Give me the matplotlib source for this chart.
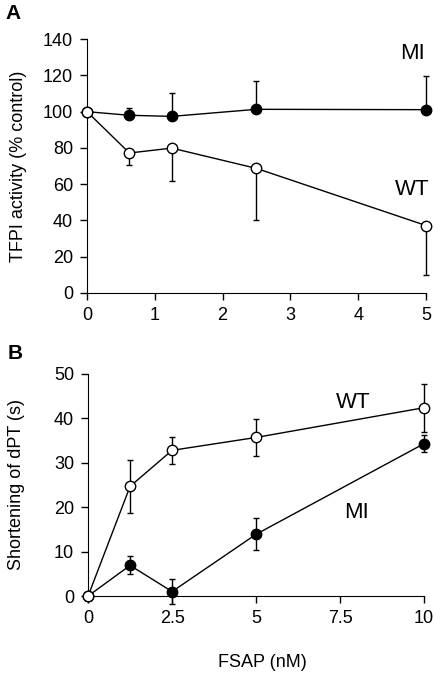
import matplotlib
matplotlib.use('Agg')
import matplotlib.pyplot as plt

plt.rcParams['font.family'] = ['Liberation Sans', 'DejaVu Sans']

# panel A: TFPI activity
xA = [0, 0.625, 1.25, 2.5, 5]
miA = [100, 98.0, 97.4, 101.3, 101.1]
miA_up = [0, 3.8, 12.7, 15.5, 18.4]
wtA = [100, 77.2, 79.9, 68.7, 37.2]
wtA_lo = [0, 6.7, 18.2, 28.2, 27.1]

# panel B: shortening of dPT
xB = [0, 1.25, 2.5, 5, 10]
wtB = [0, 24.7, 32.8, 35.7, 42.4]
wtB_err = [0, 6.0, 3.0, 4.2, 5.4]
miB = [0, 6.9, 1.0, 13.9, 34.3]
miB_err = [0, 2.0, 2.8, 3.6, 1.9]

fig = plt.figure(figsize=(4.34, 6.75), dpi=100)
axA = fig.add_axes([0.2005, 0.566, 0.781, 0.376])
axB = fig.add_axes([0.203, 0.117, 0.774, 0.329])

mk = dict(color='black', lw=1, ms=7.5, clip_on=False, zorder=3,
          markeredgecolor='black', markeredgewidth=1)
eb = dict(fmt='none', ecolor='black', elinewidth=1, capsize=2.5, capthick=1,
          clip_on=False, zorder=2)

axA.errorbar(xA, miA, yerr=[[0]*5, miA_up], **eb)
axA.errorbar(xA, wtA, yerr=[wtA_lo, [0]*5], **eb)
axA.plot(xA, miA, marker='o', markerfacecolor='black', **mk)
axA.plot(xA, wtA, marker='o', markerfacecolor='white', **mk)
axA.set_xlim(0, 5)
axA.set_ylim(0, 140)
axA.set_xticks([0, 1, 2, 3, 4, 5])
axA.set_yticks(range(0, 141, 20))
axA.set_ylabel('TFPI activity (% control)', fontsize=13)
axA.yaxis.set_label_coords(-0.176, 0.5)
axA.text(4.8, 132, 'MI', fontsize=16, ha='center', va='center')
axA.text(4.8, 57, 'WT', fontsize=16, ha='center', va='center')

axB.errorbar(xB, wtB, yerr=wtB_err, **eb)
axB.errorbar(xB, miB, yerr=miB_err, **eb)
axB.plot(xB, miB, marker='o', markerfacecolor='black', **mk)
axB.plot(xB, wtB, marker='o', markerfacecolor='white', **mk)
axB.set_xlim(0, 10)
axB.set_ylim(0, 50)
axB.set_xticks([0, 2.5, 5, 7.5, 10])
axB.set_xticklabels(['0', '2.5', '5', '7.5', '10'])
axB.set_yticks(range(0, 51, 10))
axB.set_ylabel('Shortening of dPT (s)', fontsize=13)
axB.yaxis.set_label_coords(-0.188, 0.5)
axB.set_xlabel('FSAP (nM)', fontsize=13)
axB.xaxis.set_label_coords(0.518, -0.26)
axB.text(7.9, 43.5, 'WT', fontsize=16, ha='center', va='center')
axB.text(8.0, 18.7, 'MI', fontsize=16, ha='center', va='center')

for ax in (axA, axB):
    ax.spines['top'].set_visible(False)
    ax.spines['right'].set_visible(False)
    ax.tick_params(direction='out', length=5, width=1, labelsize=13, pad=5)

fig.text(0.012, 0.98, 'A', fontsize=15, fontweight='bold', va='center')
fig.text(0.018, 0.477, 'B', fontsize=15, fontweight='bold', va='center')

fig.savefig('out.png', dpi=100)
